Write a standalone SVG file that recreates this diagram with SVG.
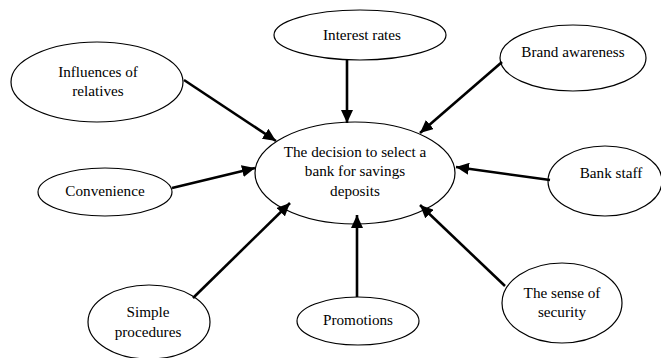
<svg xmlns="http://www.w3.org/2000/svg" width="661" height="358" viewBox="0 0 661 358">
<style>
.n ellipse{fill:#fff;stroke:#000;stroke-width:1.2}
.n text{font-family:"Liberation Serif","Times New Roman",serif;font-size:15.2px;fill:#000;text-anchor:middle}
.c line{stroke:#000;stroke-width:2.6;marker-end:url(#ah)}
</style>
<defs>
<marker id="ah" markerUnits="userSpaceOnUse" markerWidth="14" markerHeight="12" refX="13" refY="6" orient="auto">
<path d="M0,0 L13,6 L0,12 Z" fill="#000"/>
</marker>
</defs>
<rect width="661" height="358" fill="#fff"/>
<g id="center" class="n">
<ellipse cx="355" cy="173" rx="100" ry="51"/>
<text x="355" y="157">The decision to select a</text>
<text x="355" y="176">bank for savings</text>
<text x="355" y="196">deposits</text>
</g>
<g id="interest" class="n">
<ellipse cx="360" cy="35" rx="86" ry="25"/>
<text x="362" y="40">Interest rates</text>
</g>
<g id="brand" class="n">
<ellipse cx="573" cy="58" rx="73" ry="33"/>
<text x="573" y="57">Brand awareness</text>
</g>
<g id="relatives" class="n">
<ellipse cx="97" cy="82" rx="86" ry="40"/>
<text x="98" y="77">Influences of</text>
<text x="98" y="96">relatives</text>
</g>
<g id="convenience" class="n">
<ellipse cx="105" cy="192" rx="67" ry="24"/>
<text x="105" y="196">Convenience</text>
</g>
<g id="simple" class="n">
<ellipse cx="149" cy="322" rx="61" ry="37"/>
<text x="148" y="317">Simple</text>
<text x="148" y="337">procedures</text>
</g>
<g id="promotions" class="n">
<ellipse cx="358" cy="321" rx="61" ry="24"/>
<text x="358" y="325">Promotions</text>
</g>
<g id="staff" class="n">
<ellipse cx="605" cy="181" rx="57" ry="35"/>
<text x="611" y="178">Bank staff</text>
</g>
<g id="security" class="n">
<ellipse cx="562" cy="303" rx="60" ry="40"/>
<text x="562" y="298">The sense of</text>
<text x="562" y="317">security</text>
</g>
<g id="connectors" class="c">
<line x1="347" y1="60" x2="347" y2="123"/>
<line x1="502" y1="62" x2="420" y2="133"/>
<line x1="550" y1="180" x2="456" y2="167"/>
<line x1="505" y1="286" x2="420" y2="205"/>
<line x1="357" y1="297" x2="357" y2="215"/>
<line x1="193" y1="298" x2="290" y2="203"/>
<line x1="172" y1="188" x2="255" y2="168"/>
<line x1="184" y1="80" x2="276" y2="141"/>
</g>
</svg>
